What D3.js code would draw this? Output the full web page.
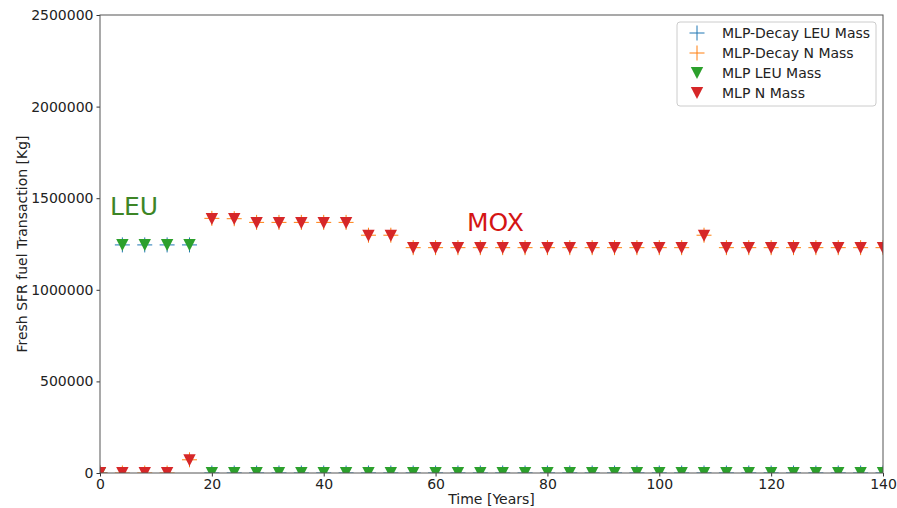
<!DOCTYPE html>
<html><head><meta charset="utf-8">
<script src="https://cdn.jsdelivr.net/npm/d3@7"></script>
<style>body{margin:0;background:#fff}svg{display:block;font-family:"DejaVu Sans",sans-serif}</style>
</head><body><svg id="c" width="897" height="508"></svg>
<script>
const years = d3.range(0, 141, 4);
const mlpLEU = [0,1245000,1245000,1245000,1245000,0,0,0,0,0,0,0,0,0,0,0,0,0,0,0,0,0,0,0,0,0,0,0,0,0,0,0,0,0,0,0];
const mlpN = [0,0,0,0,70000,1386000,1386000,1365000,1365000,1365000,1365000,1365000,1295000,1295000,1228000,1228000,1228000,1228000,1228000,1228000,1228000,1228000,1228000,1228000,1228000,1228000,1228000,1295000,1228000,1228000,1228000,1228000,1228000,1228000,1228000,1228000];
const decayLEU = mlpLEU.slice();
const decayN = [0,0,0,0,72000,1390000,1388000,1368000,1368000,1368000,1368000,1368000,1298000,1298000,1230000,1230000,1230000,1230000,1230000,1230000,1230000,1230000,1230000,1230000,1230000,1230000,1230000,1298000,1230000,1230000,1230000,1230000,1230000,1230000,1230000,1230000];
const xTicks = [0,20,40,60,80,100,120,140];
const yTicks = [0,500000,1000000,1500000,2000000,2500000];
const legendLabels = ["MLP-Decay LEU Mass","MLP-Decay N Mass","MLP LEU Mass","MLP N Mass"];

const svg = d3.select("#c");
const L=100,R=883,T=15,B=473;
const x = d3.scaleLinear().domain([0,140]).range([L,R]);
const y = d3.scaleLinear().domain([0,2500000]).range([B,T]);

svg.append("clipPath").attr("id","cp").append("rect").attr("x",L).attr("y",T).attr("width",R-L).attr("height",B-T);

const xAxis = svg.append("g").attr("transform",`translate(0,${B})`).call(d3.axisBottom(x).tickValues(xTicks).tickSize(3.5).tickPadding(3).tickFormat(d3.format("d")));
const yAxis = svg.append("g").attr("transform",`translate(${L},0)`).call(d3.axisLeft(y).tickValues(yTicks).tickSize(3.5).tickPadding(3).tickFormat(d3.format("d")));
[xAxis,yAxis].forEach(a=>{a.selectAll("text").attr("font-size",14).attr("fill","#222").attr("font-family","DejaVu Sans");a.selectAll("line").attr("stroke","#333");a.select(".domain").remove();});

const g = svg.append("g").attr("clip-path","url(#cp)");
const tri = "M0,6L-6.2,-6L6.2,-6Z";
const plus = "M-7.5,0H7.5M0,-7.5V7.5";
function drawTri(vals,color){
  g.append("g").selectAll("path").data(vals).join("path")
   .attr("d",tri).attr("fill",color)
   .attr("transform",(d,i)=>`translate(${x(years[i])},${y(d)})`);
}
function drawPlus(vals,color){
  g.append("g").selectAll("path").data(vals).join("path")
   .attr("d",plus).attr("stroke",color).attr("stroke-width",1).attr("fill","none")
   .attr("transform",(d,i)=>`translate(${x(years[i])},${y(d)})`);
}
drawPlus(decayLEU,"#1f77b4");
drawPlus(decayN,"#ff7f0e");
drawTri(mlpLEU,"#2ca02c");
drawTri(mlpN,"#d62728");

svg.append("rect").attr("x",L).attr("y",T).attr("width",R-L).attr("height",B-T).attr("fill","none").attr("stroke","#555").attr("stroke-width",1);

svg.append("text").attr("x",110).attr("y",215).attr("font-size",25).attr("fill","#3d8526").text("LEU");
svg.append("text").attr("x",467).attr("y",231).attr("font-size",25).attr("fill","#d41414").text("MOX");

svg.append("text").attr("x",(L+R)/2).attr("y",504).attr("text-anchor","middle").attr("font-size",14).attr("fill","#222").text("Time [Years]");
svg.append("text").attr("transform",`translate(27,${(T+B)/2}) rotate(-90)`).attr("text-anchor","middle").attr("font-size",14).attr("fill","#222").text("Fresh SFR fuel Transaction [Kg]");

// legend
const lg = svg.append("g").attr("transform","translate(677,22)");
lg.append("rect").attr("width",199).attr("height",84).attr("rx",3).attr("fill","#fff").attr("stroke","#ccc");
legendLabels.forEach((lab,i)=>{
  const cy = 11+i*20;
  const row = lg.append("g").attr("transform",`translate(20,${cy})`);
  if(i<2){
    row.append("path").attr("d","M-7.5,0H7.5M0,-7.5V7.5").attr("stroke",i===0?"#1f77b4":"#ff7f0e").attr("stroke-width",1);
  } else {
    row.append("path").attr("d",tri).attr("fill",i===2?"#2ca02c":"#d62728");
  }
  lg.append("text").attr("x",45).attr("y",cy+5).attr("font-size",14).attr("fill","#222").text(lab);
});
</script></body></html>
